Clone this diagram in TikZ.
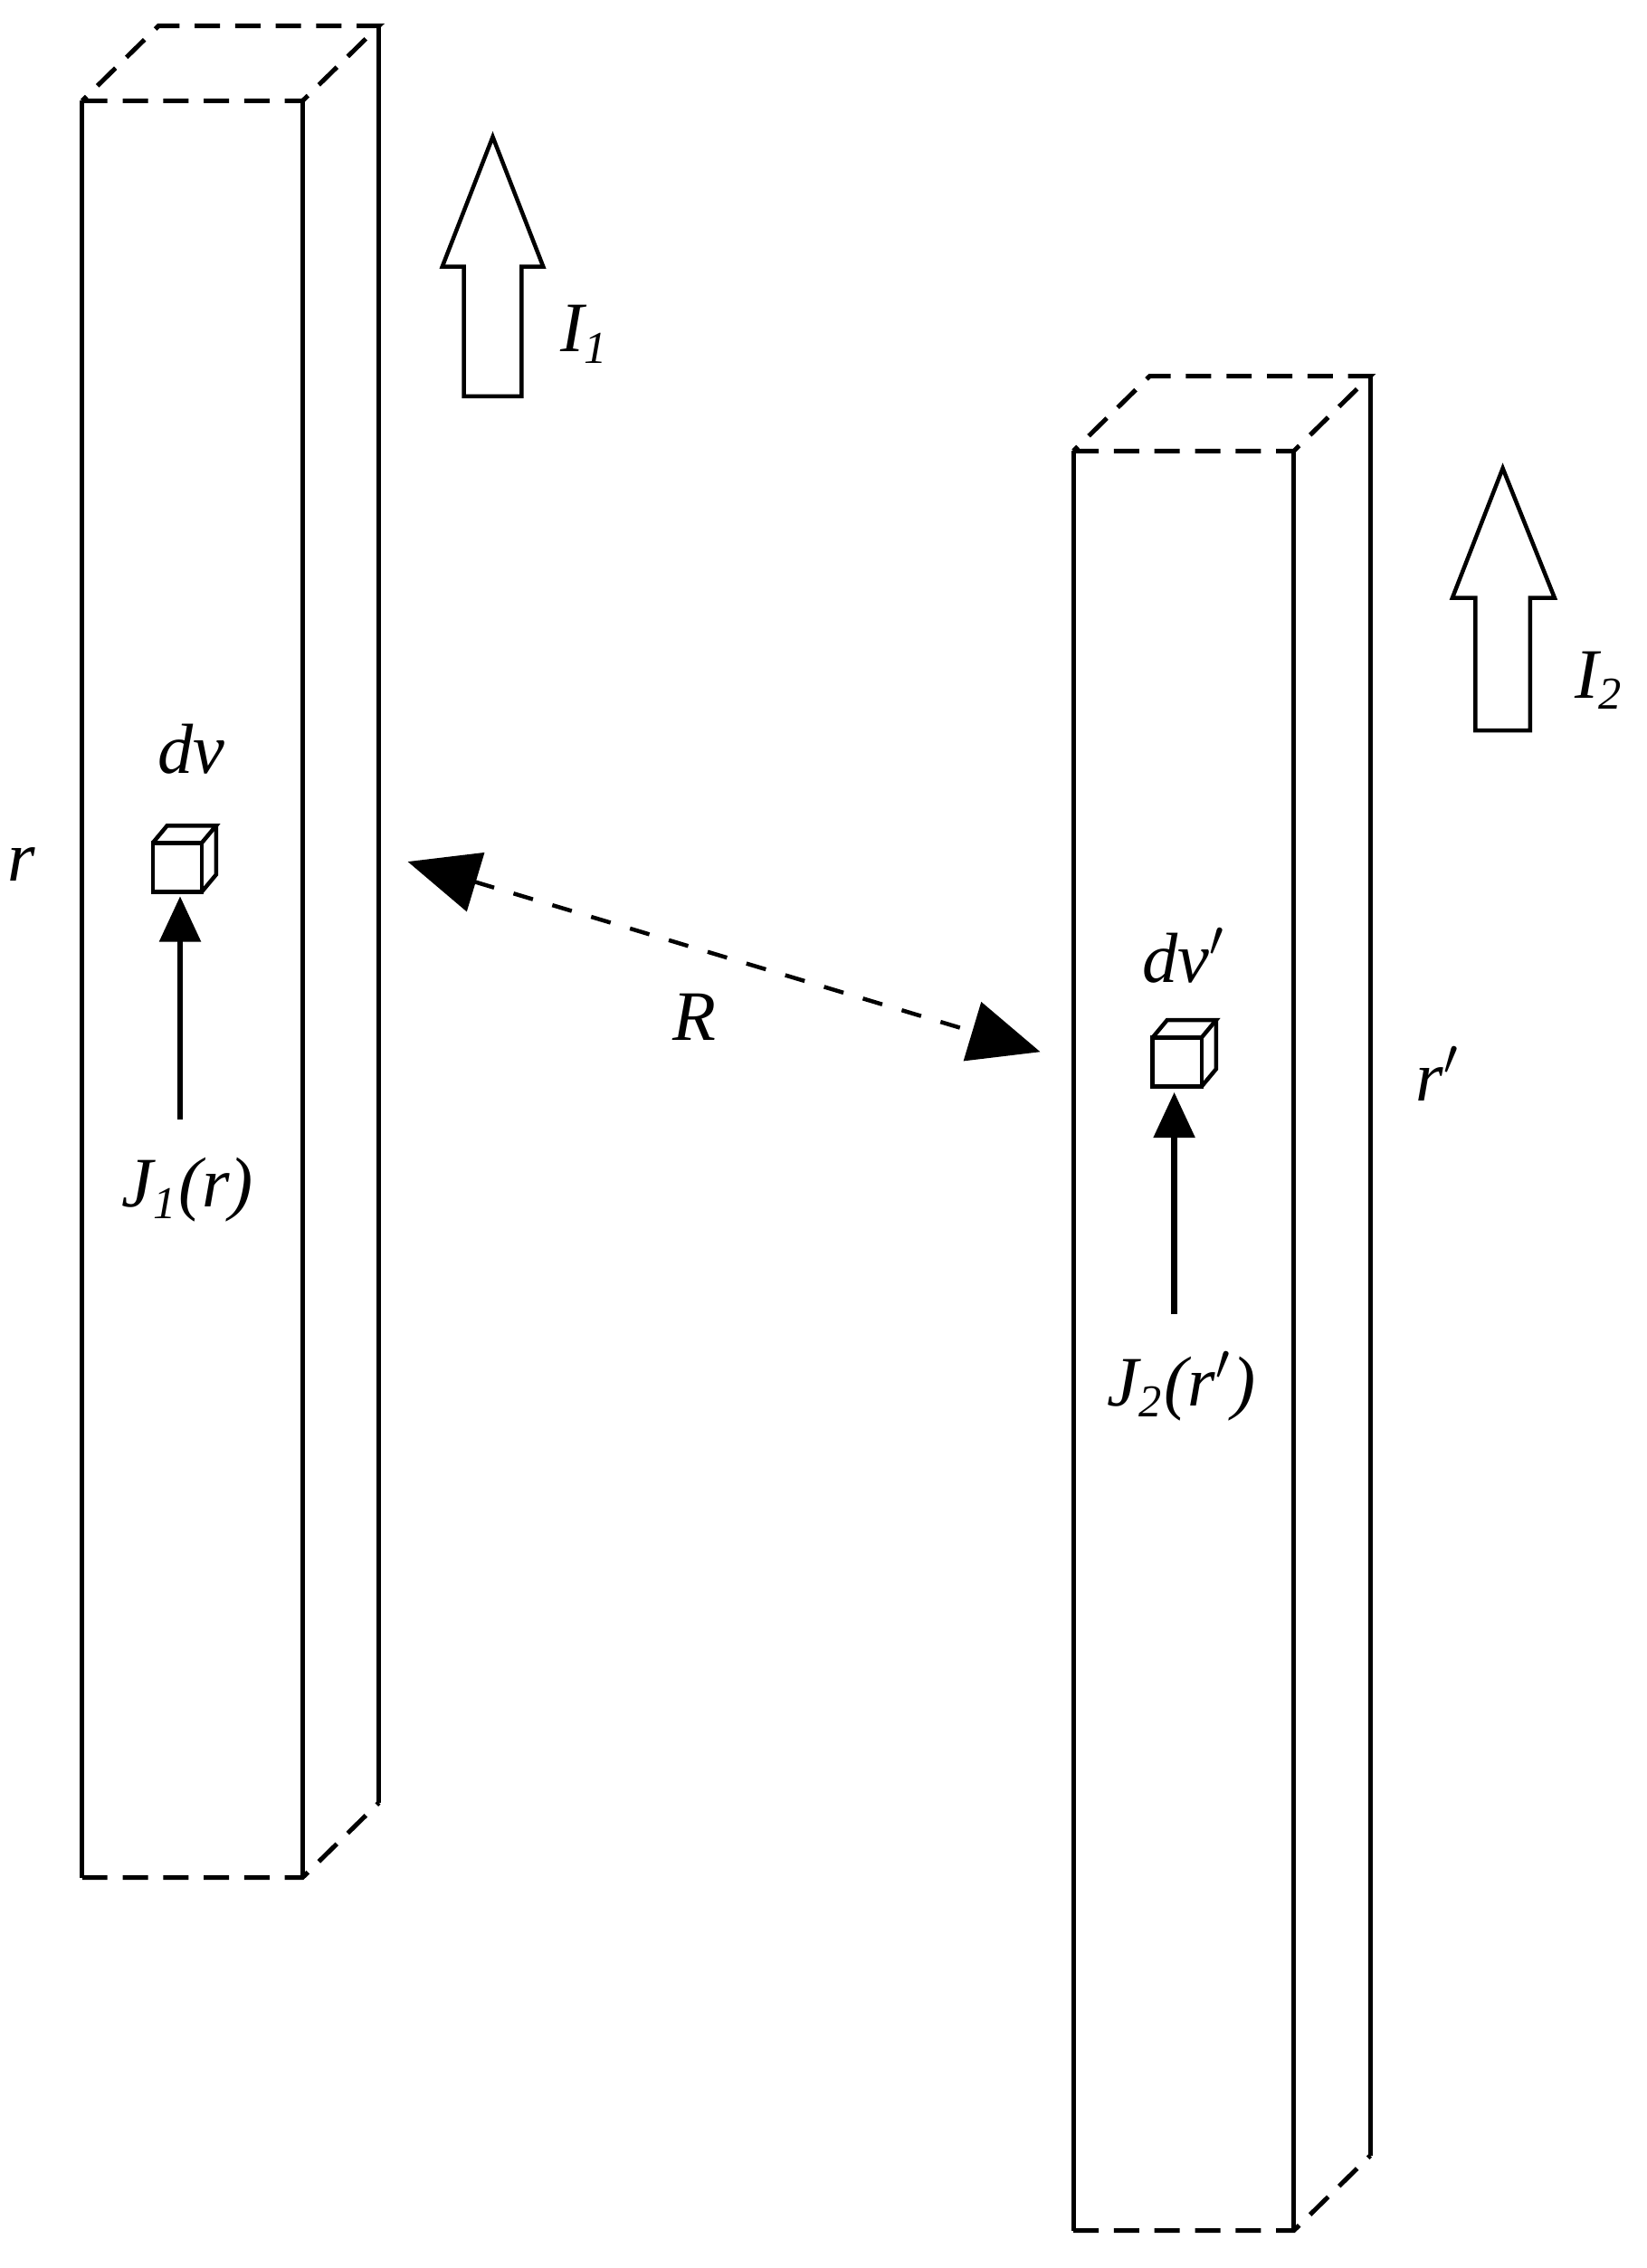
\documentclass[tikz,border=0pt]{standalone}
\usepackage{fontspec}
\setmainfont{Liberation Serif}
\usetikzlibrary{arrows.meta}
\tikzset{
 edge/.style={line width=0.9pt},
 dedge/.style={line width=0.9pt,dash pattern=on 5pt off 3pt},
 lbl/.style={font=\fontsize{14}{16}\selectfont\itshape,inner sep=0pt},
 hollow/.style={line width=0.8pt,fill=white},
 cur/.style={line width=1.2pt,-{Triangle[length=9pt,width=8pt]}}
}
\newcommand{\mybar}[4]{% x0 y0 x1 y1 (front face)
 \draw[edge] (#1,#2) -- (#1,#4);
 \draw[edge] (#3,#2) -- (#3,#4);
 \draw[edge] (#3+53,#2-52) -- (#3+53,#4-52);
 \draw[dedge] (#1,#2) -- (#3,#2) -- (#3+53,#2-52) -- (#1+53,#2-52) -- cycle;
 \draw[dedge] (#1,#4) -- (#3,#4) -- (#3+53,#4-52);
}
\newcommand{\mycube}[2]{%
 \draw[line width=0.8pt] (#1-17,#2-15) rectangle (#1+17,#2+19);
 \draw[line width=0.8pt] (#1-17,#2-15) -- (#1-7,#2-27) -- (#1+27,#2-27) -- (#1+17,#2-15);
 \draw[line width=0.8pt] (#1+27,#2-27) -- (#1+27,#2+7) -- (#1+17,#2+19);
}
\begin{document}
\begin{tikzpicture}[x=0.01cm,y=-0.01cm]
\useasboundingbox (0,0) rectangle (1143,1574);
\mybar{57}{70}{210}{1303}
\mybar{745}{313}{898}{1548}
% hollow arrows
\draw[hollow] (322,275) -- (322,185) -- (307,185) -- (342,95) -- (377,185) -- (362,185) -- (362,275) -- cycle;
\draw[hollow] (1024,507) -- (1024,415) -- (1008,415) -- (1043,325) -- (1079,415) -- (1062,415) -- (1062,507) -- cycle;
\node[lbl] (i1) at (406,232) {I\textsubscript{\fontsize{9}{10}\selectfont 1}};
\node[lbl] (i2) at (1110,472) {I\textsubscript{\fontsize{9}{10}\selectfont 2}};
% left element
\node[lbl] (r) at (15,600) {r};
\node[lbl] (dv) at (133,520) {dv};
\mycube{123}{600}
\coordinate (c1) at (125,622);
\coordinate (j1s) at (125,777);
\draw[cur] (j1s) -- (c1);
\node[lbl] (j1) at (130,826) {J\textsubscript{\fontsize{9}{10}\selectfont 1}(r)};
% right element
\node[lbl] (dv2) at (822,663) {dv$'$};
\mycube{817}{735}
\coordinate (c2) at (815,758);
\coordinate (j2s) at (815,912);
\draw[cur] (j2s) -- (c2);
\node[lbl] (j2) at (820,962) {J\textsubscript{\fontsize{9}{10}\selectfont 2}(r$'$)};
\node[lbl] (r2) at (998,745) {r$'$};
% R
\coordinate (a) at (283,598);
\coordinate (b) at (722,730);
\draw[line width=0.8pt,dash pattern=on 4pt off 4pt,{Triangle[length=14pt,width=12pt]}-{Triangle[length=14pt,width=12pt]}] (a) -- (b);
\node[lbl] (R) at (482,706) {R};
\end{tikzpicture}
\end{document}
